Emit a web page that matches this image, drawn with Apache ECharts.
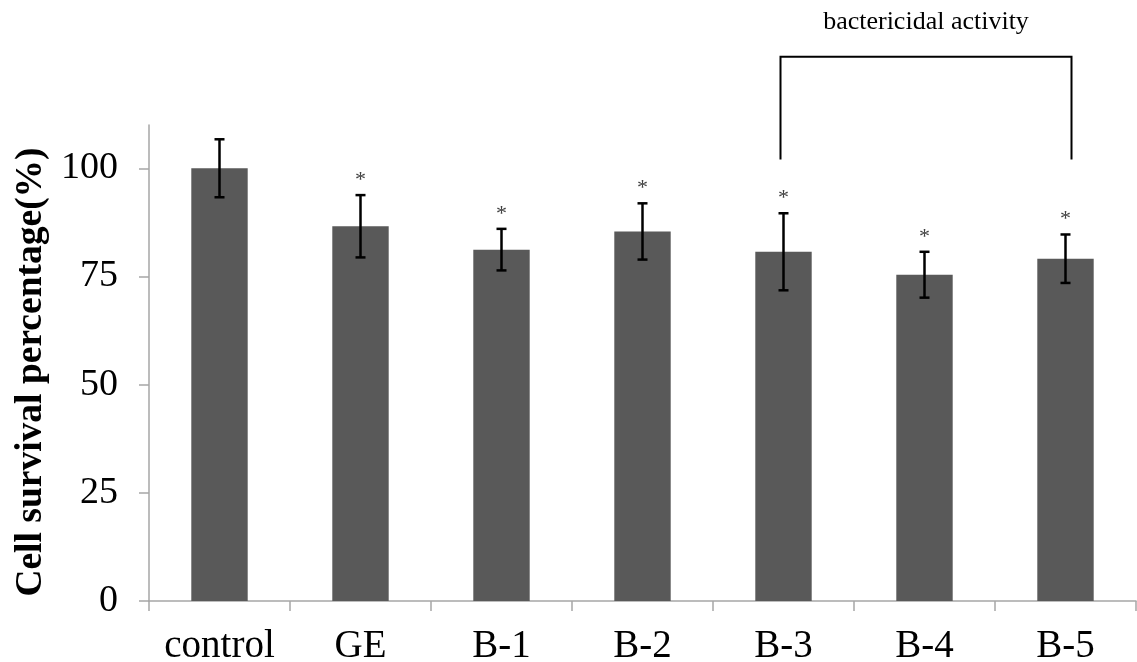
<!DOCTYPE html>
<html>
<head>
<meta charset="utf-8">
<script src="https://cdn.jsdelivr.net/npm/echarts@6/dist/echarts.min.js"></script>
<style>
html,body{margin:0;padding:0;background:#fff;}
#chart{width:1137px;height:662px;}
</style>
</head>
<body>
<div id="chart"></div>
<script>
// ---- data ----
var categories = ['control', 'GE', 'B-1', 'B-2', 'B-3', 'B-4', 'B-5'];
var survival = [100.0, 86.6, 81.2, 85.4, 80.7, 75.4, 79.1];
var errorSD = [6.7, 7.2, 4.8, 6.5, 8.9, 5.3, 5.6];
var significant = [false, true, true, true, true, true, true];
var yTicks = [0, 25, 50, 75, 100];
var bracketLabel = 'bactericidal activity';
var bracketFrom = 'B-3';
var bracketTo = 'B-5';
var bracketLow = 102;
var bracketHigh = 125.8;

var SERIF = '"Liberation Serif", "Times New Roman", serif';

var errData = categories.map(function (c, i) {
  return [i, survival[i] - errorSD[i], survival[i] + errorSD[i], significant[i] ? 1 : 0];
});

var chart = echarts.init(document.getElementById('chart'));
chart.setOption({
  animation: false,
  backgroundColor: '#ffffff',
  grid: { left: 149, right: 1, top: 125, bottom: 61, containLabel: false, outerBoundsMode: 'none' },
  xAxis: {
    type: 'category',
    data: categories,
    axisLine: { show: true, lineStyle: { color: '#a6a6a6', width: 1.5 } },
    axisTick: { show: true, length: 10, lineStyle: { color: '#a6a6a6', width: 1.5 } },
    axisLabel: { interval: 0, color: '#000', fontFamily: SERIF, fontSize: 39, margin: 26 }
  },
  yAxis: {
    type: 'value',
    min: 0, max: 110, interval: 25,
    name: 'Cell survival percentage(%)',
    nameLocation: 'middle',
    nameGap: 52,
    nameTextStyle: { color: '#000', fontFamily: SERIF, fontSize: 37.5, fontWeight: 'bold', padding: [0, 18, 0, 0] },
    splitLine: { show: false },
    axisLine: { show: true, lineStyle: { color: '#a6a6a6', width: 1.5 } },
    axisTick: { show: true, length: 10, customValues: yTicks, lineStyle: { color: '#a6a6a6', width: 1.5 } },
    axisLabel: { customValues: yTicks, color: '#000', fontFamily: SERIF, fontSize: 38, margin: 31 }
  },
  series: [
    {
      type: 'bar',
      data: survival,
      barWidth: '40%',
      itemStyle: { color: '#595959' }
    },
    {
      type: 'custom',
      data: errData,
      z: 10,
      renderItem: function (params, api) {
        var x = api.value(0);
        var lo = api.coord([x, api.value(1)]);
        var hi = api.coord([x, api.value(2)]);
        var cap = 5;
        var style = { stroke: '#000', lineWidth: 2.5, fill: 'none' };
        var children = [
          { type: 'line', shape: { x1: lo[0], y1: lo[1], x2: hi[0], y2: hi[1] }, style: style },
          { type: 'line', shape: { x1: lo[0] - cap, y1: lo[1], x2: lo[0] + cap, y2: lo[1] }, style: style },
          { type: 'line', shape: { x1: hi[0] - cap, y1: hi[1], x2: hi[0] + cap, y2: hi[1] }, style: style }
        ];
        if (api.value(3)) {
          children.push({
            type: 'text',
            style: { text: '*', x: hi[0], y: hi[1] - 4, align: 'center', verticalAlign: 'bottom',
              fill: '#404040', font: '22px ' + SERIF }
          });
        }
        return { type: 'group', children: children };
      }
    },
    {
      type: 'custom',
      data: [[categories.indexOf(bracketFrom), categories.indexOf(bracketTo), bracketLow, bracketHigh]],
      clip: false,
      z: 10,
      renderItem: function (params, api) {
        var a = api.coord([api.value(0), api.value(2)]);
        var b = api.coord([api.value(1), api.value(2)]);
        var topY = api.coord([api.value(0), api.value(3)])[1];
        var style = { stroke: '#000', lineWidth: 2, fill: 'none' };
        var ax = a[0] - 3, bx = b[0] + 6;
        return {
          type: 'group',
          children: [
            { type: 'polyline', shape: { points: [[ax, a[1]], [ax, topY], [bx, topY], [bx, b[1]]] }, style: style },
            { type: 'text', style: { text: bracketLabel, x: (ax + bx) / 2, y: topY - 21, align: 'center',
              verticalAlign: 'bottom', fill: '#000', font: '26px ' + SERIF } }
          ]
        };
      }
    }
  ]
});
</script>
</body>
</html>
